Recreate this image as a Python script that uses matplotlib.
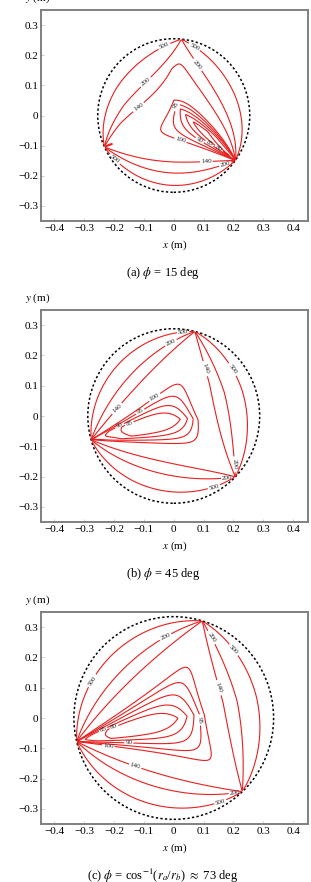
import numpy as np
import matplotlib.pyplot as plt

plt.rcParams['font.family'] = ['Liberation Serif', 'DejaVu Serif']
plt.rcParams['mathtext.fontset'] = 'stix'

# geometry of the 3-cable robot (m)
rb = 0.35   # base anchor radius
ra = 0.10   # platform attachment radius
anchor_deg = [90, 210, 330]

# panels
phi_deg = [15, 45, 73]
captions = [r'(a) $\phi$ = 15 deg', r'(b) $\phi$ = 45 deg',
            r'(c) $\phi$ = cos$^{-1}$($r_a$/$r_b$) $\approx$ 73 deg']
load_deg = [345, 205, 195]     # direction of external force
load_ratio = [4.5, 1.5, 1.5]   # force / moment
t_min = [76, 74, 70]           # lowest tension in panel (N)

levels_a = [80, 85, 90, 95, 100, 140, 200, 500]
levels_b = [85, 90, 95, 100, 140, 200, 500]
levels_c = [80, 85, 90, 95, 100, 140, 200, 500]
xticks = [-0.4, -0.3, -0.2, -0.1, 0, 0.1, 0.2, 0.3, 0.4]
yticks = [-0.3, -0.2, -0.1, 0, 0.1, 0.2, 0.3]

th = np.deg2rad(anchor_deg)


def tension(phi, X, Y, F, M):
    p = np.deg2rad(phi)
    Ax, Ay = rb*np.cos(th), rb*np.sin(th)
    bx, by = ra*np.cos(th+p), ra*np.sin(th+p)
    ux = Ax[:, None, None] - (X[None] + bx[:, None, None])
    uy = Ay[:, None, None] - (Y[None] + by[:, None, None])
    L = np.hypot(ux, uy)
    ux, uy = ux/L, uy/L
    m = bx[:, None, None]*uy - by[:, None, None]*ux
    J = np.moveaxis(np.stack([ux, uy, m], 0), (0, 1), (-2, -1))
    w = -np.array([F[0], F[1], M])
    t = np.linalg.solve(J, np.broadcast_to(w, J.shape[:-1])[..., None])[..., 0]
    return np.abs(t).max(-1)


fig = plt.figure(figsize=(3.11, 8.82), dpi=100)
boxes = [(10, 221), (310, 522), (612, 824)]
all_levels = [levels_a, levels_b, levels_c]
g = np.linspace(-0.45, 0.45, 500)
X, Y = np.meshgrid(g, g)

for i in range(3):
    top, bot = boxes[i]
    ax = fig.add_axes([41/311, 1-bot/882, 267/311, (bot-top)/882])
    phi = phi_deg[i]
    R = abs(rb - ra*np.exp(1j*np.deg2rad(phi)))
    b = np.deg2rad(load_deg[i])
    F = (load_ratio[i]*np.cos(b), load_ratio[i]*np.sin(b))
    v = tension(phi, X, Y, F, 1.0)
    v = np.where(X**2+Y**2 < (R*0.998)**2, v, np.nan)
    v = v/np.nanmin(v)*t_min[i]
    cs = ax.contour(X, Y, v, levels=all_levels[i], colors='#e82020', linewidths=0.8)
    ax.clabel(cs, fmt='%d', fontsize=5, colors='#222222', inline=True,
              inline_spacing=1)
    circ = plt.Circle((0, 0), R, fill=False, color='black', lw=1.1, ls=(0, (1.5, 1.5)))
    ax.add_patch(circ)
    ax.set_xlim(-0.445, 0.45)
    ax.set_ylim(-0.35, 0.35)
    ax.set_xticks(xticks)
    ax.set_yticks(yticks)
    ax.set_xticklabels(['\u22120.4', '\u22120.3', '\u22120.2', '\u22120.1', '0', '0.1', '0.2', '0.3', '0.4'])
    ax.set_yticklabels(['\u22120.3', '\u22120.2', '\u22120.1', '0', '0.1', '0.2', '0.3'])
    ax.tick_params(direction='in', length=2, width=0.5, color='#bbbbbb',
                   labelsize=8, pad=2)
    for s in ax.spines.values():
        s.set_color('#808080')
        s.set_linewidth(1.4)
    fig.text(38/311, 1-(top-12)/882, r'$y$ (m)', ha='center', va='center', fontsize=8)
    fig.text(175/311, 1-(bot+24)/882, r'$x$ (m)', ha='center', va='center', fontsize=8)
    fig.text(163/311, 1-(bot+52)/882, captions[i], ha='center', va='center', fontsize=9)

fig.savefig('out.png', dpi=100)
